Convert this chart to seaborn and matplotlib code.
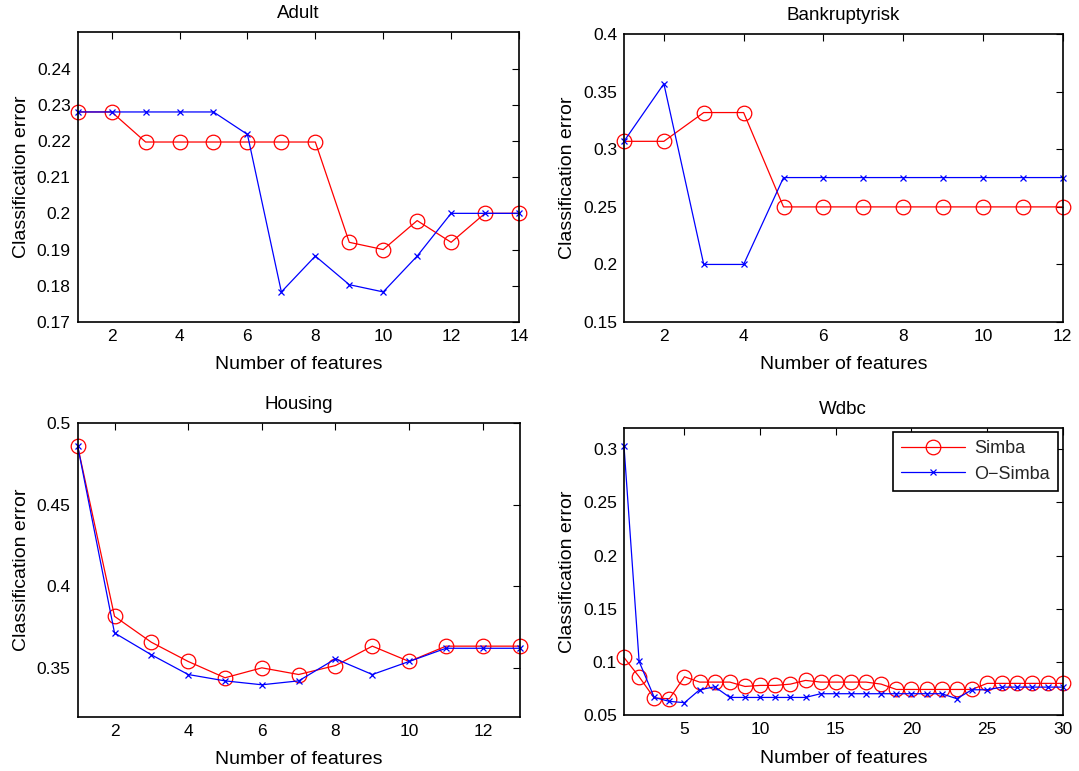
import numpy as np
import pandas as pd
import matplotlib
matplotlib.use("Agg")
import matplotlib.pyplot as plt
import seaborn as sns
from matplotlib.ticker import FuncFormatter

# ---------------- data ----------------
adult_x = list(range(1, 15))
adult_simba = [0.228, 0.228, 0.2197, 0.2197, 0.2197, 0.2197, 0.2197, 0.2197,
               0.192, 0.190, 0.198, 0.192, 0.200, 0.200]
adult_osimba = [0.228, 0.228, 0.228, 0.228, 0.228, 0.2218, 0.1783, 0.1882,
                0.1803, 0.1783, 0.1882, 0.200, 0.200, 0.200]

bank_x = list(range(1, 13))
bank_simba = [0.307, 0.307, 0.332, 0.332, 0.25, 0.25, 0.25, 0.25, 0.25, 0.25, 0.25, 0.25]
bank_osimba = [0.307, 0.357, 0.200, 0.200, 0.2755, 0.2755, 0.2755, 0.2755,
               0.2755, 0.2755, 0.2755, 0.2755]

housing_x = list(range(1, 14))
housing_simba = [0.486, 0.3816, 0.3657, 0.3539, 0.3439, 0.350, 0.3459, 0.3514,
                 0.3633, 0.3539, 0.3633, 0.3633, 0.3633]
housing_osimba = [0.486, 0.3714, 0.358, 0.3459, 0.342, 0.3396, 0.342, 0.3555,
                  0.3459, 0.3539, 0.362, 0.362, 0.362]

wdbc_x = list(range(1, 31))
wdbc_simba = [0.1043, 0.0862, 0.0662, 0.0656, 0.0862, 0.0812, 0.0812, 0.0812,
              0.0771, 0.0781, 0.0781, 0.0793, 0.0828, 0.0812, 0.0812, 0.0812,
              0.0812, 0.0793, 0.0743, 0.0743, 0.0743, 0.0743, 0.0743, 0.0743,
              0.080, 0.080, 0.080, 0.080, 0.080, 0.080]
wdbc_osimba = [0.303, 0.1006, 0.0668, 0.0631, 0.0619, 0.074, 0.0768, 0.0668,
               0.0668, 0.0668, 0.0668, 0.0668, 0.0668, 0.0703, 0.0703, 0.0703,
               0.0703, 0.0703, 0.0703, 0.0703, 0.0703, 0.0703, 0.0656, 0.074,
               0.074, 0.0765, 0.0765, 0.0765, 0.0765, 0.0765]

titles = ["Adult", "Bankruptyrisk", "Housing", "Wdbc"]
series_names = ["Simba", "O\u2212Simba"]

# ---------------- style ----------------
sns.set_theme(style="white")
plt.rcParams['font.family'] = ['Liberation Sans', 'DejaVu Sans']
plt.rcParams['axes.edgecolor'] = 'black'
plt.rcParams['axes.linewidth'] = 1.0

fig = plt.figure(figsize=(10.79, 7.71), dpi=100)
positions = [
    [0.072, 0.5824, 0.409, 0.3757],
    [0.5783, 0.5824, 0.4066, 0.3731],
    [0.072, 0.0704, 0.4096, 0.3805],
    [0.5783, 0.0722, 0.4066, 0.373],
]
panels = [
    (adult_x, adult_simba, adult_osimba, (1, 14), (0.17, 0.25),
     np.arange(2, 15, 2), np.round(np.arange(0.17, 0.2451, 0.01), 2)),
    (bank_x, bank_simba, bank_osimba, (1, 12), (0.15, 0.4),
     np.arange(2, 13, 2), np.round(np.arange(0.15, 0.401, 0.05), 2)),
    (housing_x, housing_simba, housing_osimba, (1, 13), (0.32, 0.5),
     np.arange(2, 13, 2), [0.35, 0.4, 0.45, 0.5]),
    (wdbc_x, wdbc_simba, wdbc_osimba, (1, 30), (0.05, 0.32),
     np.arange(5, 31, 5), np.round(np.arange(0.05, 0.301, 0.05), 2)),
]

fmt = FuncFormatter(lambda v, p: ('%g' % round(v, 4)))

for i, (pos, (x, s, o, xl, yl, xt, yt)) in enumerate(zip(positions, panels)):
    ax = fig.add_axes(pos)
    df = pd.DataFrame({"x": x, "Simba": s, "OSimba": o})
    sns.lineplot(data=df, x="x", y="Simba", ax=ax, color="red", linewidth=0.9,
                 marker="o", markersize=10.5, markerfacecolor="none",
                 markeredgecolor="red", markeredgewidth=0.9, clip_on=False,
                 estimator=None, errorbar=None, label=series_names[0])
    sns.lineplot(data=df, x="x", y="OSimba", ax=ax, color="blue", linewidth=0.9,
                 marker="x", markersize=5, markeredgecolor="blue",
                 markeredgewidth=0.9, clip_on=False,
                 estimator=None, errorbar=None, label=series_names[1])
    ax.set_xlim(*xl)
    ax.set_ylim(*yl)
    ax.set_xticks(xt)
    ax.set_yticks(yt)
    ax.yaxis.set_major_formatter(fmt)
    ax.xaxis.set_major_formatter(fmt)
    ax.tick_params(direction="in", top=True, right=True, length=5, width=0.8,
                   labelsize=12.5, colors="black", pad=5)
    ax.set_title(titles[i], fontsize=13.5, pad=10, color="black")
    ax.set_xlabel("Number of features", fontsize=14, color="black", labelpad=9)
    ax.set_ylabel("Classification error", fontsize=14, color="black", labelpad=5)
    for sp in ax.spines.values():
        sp.set_visible(True)
        sp.set_color("black")
        sp.set_linewidth(1.2)
        sp.set_zorder(5)
    if i == 3:
        leg = ax.legend(loc="upper right", fontsize=13, frameon=True,
                        fancybox=False, edgecolor="black", framealpha=1,
                        borderaxespad=0.25, handlelength=3.5, borderpad=0.45,
                        labelspacing=0.45, handletextpad=0.55)
        leg.get_frame().set_linewidth(1.2)
        leg.set_zorder(10)
    else:
        ax.get_legend().remove()

fig.savefig("out.png", dpi=100)
